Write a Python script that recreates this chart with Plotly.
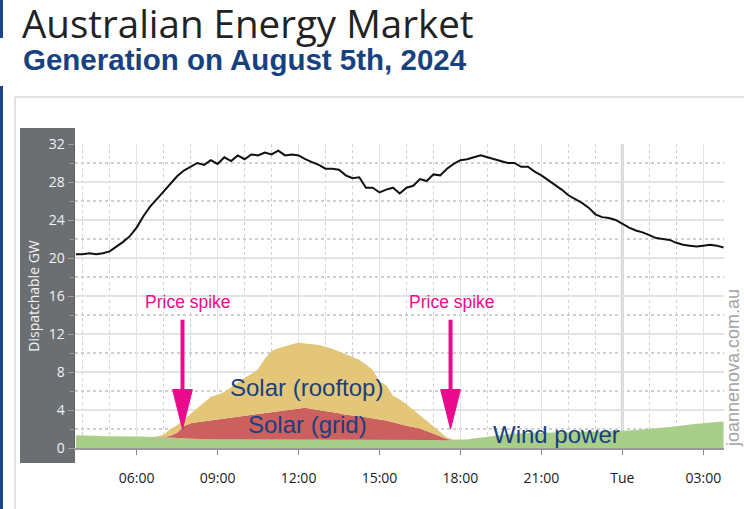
import pandas as pd
import plotly.graph_objects as go

# ---------------- data (GW, 15-minute readings, 03:45 Mon -> 03:45 Tue) ----------------
times = pd.date_range("2024-08-05 03:45", "2024-08-06 03:45", freq="15min")

dispatchable = [
    20.4, 20.4, 20.5, 20.4, 20.5, 20.7, 21.2, 21.7, 22.3, 23.2, 24.4, 25.4, 26.2,
    27.0, 27.9, 28.6, 29.2, 29.6, 30.0, 29.8, 30.3, 29.9, 30.6, 30.2, 30.8, 30.4,
    30.9, 30.8, 31.1, 30.9, 31.3, 30.8, 30.9, 30.8, 30.4, 30.1, 29.8, 29.4, 29.4,
    29.3, 28.7, 28.4, 28.5, 27.4, 27.4, 26.9, 27.2, 27.4, 26.8, 27.4, 27.6, 28.3,
    28.1, 28.8, 28.7, 29.4, 29.9, 30.3, 30.4, 30.6, 30.8, 30.6, 30.4, 30.2, 30.0,
    30.0, 29.6, 29.6, 29.1, 28.7, 28.2, 27.7, 27.2, 26.6, 26.2, 25.8, 25.3, 24.6,
    24.3, 24.2, 24.0, 23.6, 23.2, 22.9, 22.7, 22.4, 22.1, 22.0, 21.9, 21.6, 21.4,
    21.3, 21.2, 21.3, 21.4, 21.3, 21.1,
]

wind = [
    1.35, 1.35, 1.3, 1.3, 1.25, 1.25, 1.2, 1.2, 1.2, 1.2, 1.2, 1.15, 1.15,
    1.1, 1.1, 1.05, 1.0, 1.0, 0.95, 0.95,
    0.9, 0.9, 0.9, 0.9, 0.9, 0.9, 0.9, 0.9, 0.9, 0.9, 0.9, 0.9, 0.9, 0.9,
    0.85, 0.85, 0.85, 0.85, 0.85, 0.85, 0.85, 0.85, 0.85, 0.85,
    0.85, 0.85, 0.85, 0.85, 0.85, 0.85, 0.85, 0.85, 0.85, 0.85,
    0.8, 0.8, 0.8,
    0.85, 0.9, 1.0, 1.1, 1.2, 1.3, 1.4, 1.45, 1.5, 1.55,
    1.6, 1.6, 1.6, 1.6, 1.6,
    1.65, 1.65, 1.7, 1.7, 1.7, 1.75, 1.75, 1.8, 1.8, 1.8,
    1.85, 1.9, 1.95, 2.0, 2.05, 2.1, 2.2, 2.3, 2.4, 2.45, 2.55, 2.6, 2.7, 2.75, 2.8,
]

solar_grid = (
    [0.0] * 13
    + [0.05, 0.2, 0.55, 1.3, 1.6, 1.75, 1.85, 2.0, 2.1, 2.2, 2.3, 2.4, 2.5, 2.6,
       2.7, 2.8, 2.85, 2.95, 3.05, 3.2, 3.3, 3.4, 3.25, 3.15, 3.05, 2.9, 2.8, 2.65,
       2.6, 2.5, 2.4, 2.25, 2.15, 2.05, 1.85, 1.65, 1.5, 1.35, 1.2, 0.95, 0.65,
       0.4, 0.15, 0.05]
    + [0.0] * 40
)

solar_rooftop = (
    [0.0] * 12
    + [0.05, 0.25, 0.7, 0.8, 0.7, 1.0, 1.6, 2.1, 2.5, 2.6, 2.8, 3.2, 3.6, 4.0, 4.3,
       4.7, 5.7, 6.45, 6.65, 6.75, 6.8, 6.9, 6.75, 6.85, 6.85, 6.75, 6.7, 6.5,
       6.35, 6.15, 5.95, 5.55, 5.1, 4.0, 3.7, 2.8, 2.6, 2.25, 1.8, 1.35, 1.0, 0.7,
       0.4, 0.15, 0.05]
    + [0.0] * 40
)

tick_vals = ["2024-08-05 06:00", "2024-08-05 09:00", "2024-08-05 12:00",
             "2024-08-05 15:00", "2024-08-05 18:00", "2024-08-05 21:00",
             "2024-08-06 00:00", "2024-08-06 03:00"]
tick_text = ["06:00", "09:00", "12:00", "15:00", "18:00", "21:00", "Tue", "03:00"]
minor_vals = list(pd.date_range("2024-08-05 04:00", "2024-08-06 03:00", freq="1h"))

# ---------------- layout geometry ----------------
W, H = 744, 509
L, R, T, B = 75, 20, 144, 61
PW, PH = W - L - R, H - T - B


def px(xp):
    return (xp - L) / PW


def py(yp):
    return (H - B - yp) / PH


GREEN, RED, YELLOW = "#a8ce8a", "#cb605e", "#e4c679"
NAVY = "#1a3f7e"
MAGENTA = "#ec0a8c"
SANS = "Arial, Liberation Sans"

fig = go.Figure()
fig.add_trace(go.Scatter(x=times, y=wind, stackgroup="s", mode="lines",
                         line=dict(width=0, color=GREEN), fillcolor=GREEN,
                         name="Wind power"))
fig.add_trace(go.Scatter(x=times, y=solar_grid, stackgroup="s", mode="lines",
                         line=dict(width=0, color=RED), fillcolor=RED,
                         name="Solar (grid)"))
fig.add_trace(go.Scatter(x=times, y=solar_rooftop, stackgroup="s", mode="lines",
                         line=dict(width=0, color=YELLOW), fillcolor=YELLOW,
                         name="Solar (rooftop)"))
fig.add_trace(go.Scatter(x=times, y=dispatchable, mode="lines",
                         line=dict(width=2, color="#111111"), name="Dispatchable"))

shapes = [
    # left page accent
    dict(type="line", xref="paper", yref="paper", x0=px(1.5), x1=px(1.5),
         y0=py(0), y1=py(38), line=dict(color="#1c4587", width=3)),
    dict(type="line", xref="paper", yref="paper", x0=px(1.5), x1=px(1.5),
         y0=py(86), y1=py(509), line=dict(color="#1c4587", width=3)),
    # card border
    dict(type="line", xref="paper", yref="paper", x0=px(15), x1=px(744),
         y0=py(97), y1=py(97), line=dict(color="#e2e2e2", width=2)),
    dict(type="line", xref="paper", yref="paper", x0=px(15), x1=px(15),
         y0=py(97), y1=py(509), line=dict(color="#e2e2e2", width=2)),
    # grey y-axis panel
    dict(type="rect", xref="paper", yref="paper", x0=px(20), x1=px(75),
         y0=py(463), y1=py(128), fillcolor="#6c6f72", line=dict(width=0),
         layer="below"),
    # day boundary
    dict(type="line", xref="x", yref="paper", x0="2024-08-06 00:00",
         x1="2024-08-06 00:00", y0=0, y1=1,
         line=dict(color="#d6d6d6", width=3), layer="below"),
]

# price spike arrows
for t_mid, t_l, t_r in [("2024-08-05_07:42", "2024-08-05_07:20", "2024-08-05_08:04"),
                        ("2024-08-05_17:38", "2024-08-05_17:16", "2024-08-05_18:00")]:
    shapes.append(dict(type="line", xref="x", yref="y",
                       x0=t_mid.replace("_", " "), x1=t_mid.replace("_", " "),
                       y0=13.5, y1=6.0, line=dict(color=MAGENTA, width=4)))
    shapes.append(dict(type="path", xref="x", yref="y",
                       path=f"M{t_l},6.15 L{t_r},6.15 L{t_mid},2.0 Z",
                       fillcolor=MAGENTA, line=dict(color=MAGENTA, width=1)))


def label(text, x, y, size, color, family=SANS, **kw):
    return dict(text=text, xref="paper", yref="paper", x=px(x), y=py(y),
                xanchor=kw.pop("xanchor", "center"), yanchor="middle",
                showarrow=False, font=dict(family=family, size=size, color=color),
                **kw)


annotations = [
    label("Australian Energy Market", 20, 23, 38.5, "#222222",
          family="Open Sans", xanchor="left"),
    label("<b>Generation on August 5th, 2024</b>", 21, 60, 29.5, "#17427f",
          xanchor="left"),
    label("Price spike", 188, 302, 17.5, MAGENTA),
    label("Price spike", 452, 302, 17.5, MAGENTA),
    label("Solar (rooftop)", 306, 387, 24, NAVY),
    label("Solar (grid)", 307, 424, 24, NAVY),
    label("Wind power", 556, 434, 24, NAVY),
    label("joannenova.com.au", 733, 368, 18, "#a3a3a3", textangle=-90),
]

fig.update_layout(
    width=W, height=H, margin=dict(l=L, r=R, t=T, b=B, autoexpand=False),
    paper_bgcolor="white", plot_bgcolor="white", showlegend=False,
    hovermode=False, shapes=shapes, annotations=annotations,
    xaxis=dict(
        range=["2024-08-05 03:43", "2024-08-06 03:46"],
        tickmode="array", tickvals=tick_vals, ticktext=tick_text,
        ticks="outside", ticklen=5, tickcolor="#888", ticklabelstandoff=12,
        tickfont=dict(family="Open Sans", size=14, color="#222222"),
        showgrid=True, gridcolor="#e3e3e3", gridwidth=1.5,
        showline=True, linecolor="#999999", linewidth=1.5,
        minor=dict(tickmode="array", tickvals=minor_vals, showgrid=True,
                   gridcolor="#d0d0d0", griddash="dot", gridwidth=1, ticks=""),
        zeroline=False,
    ),
    yaxis=dict(
        range=[0, 32], tickmode="linear", tick0=0, dtick=4,
        ticks="outside", ticklen=6, tickcolor="#a0a0a0",
        tickfont=dict(family="Open Sans", size=14, color="#f2f2f2"),
        showgrid=True, gridcolor="#e3e3e3", gridwidth=1.5,
        showline=True, linecolor="#5c5f62", linewidth=1.5,
        minor=dict(dtick=2, showgrid=True, gridcolor="#d0d0d0", griddash="dot",
                   ticks="outside", ticklen=4, tickcolor="#a0a0a0"),
        zeroline=False,
        title=dict(text="Dispatchable GW", standoff=6,
                   font=dict(family="Open Sans", size=14, color="#f2f2f2")),
    ),
)

fig.write_html(
    "out.html",
    config={"displayModeBar": False, "staticPlot": True},
    post_script="document.body.style.margin='0';document.body.style.padding='0';"
                "document.body.style.overflow='hidden';",
)
